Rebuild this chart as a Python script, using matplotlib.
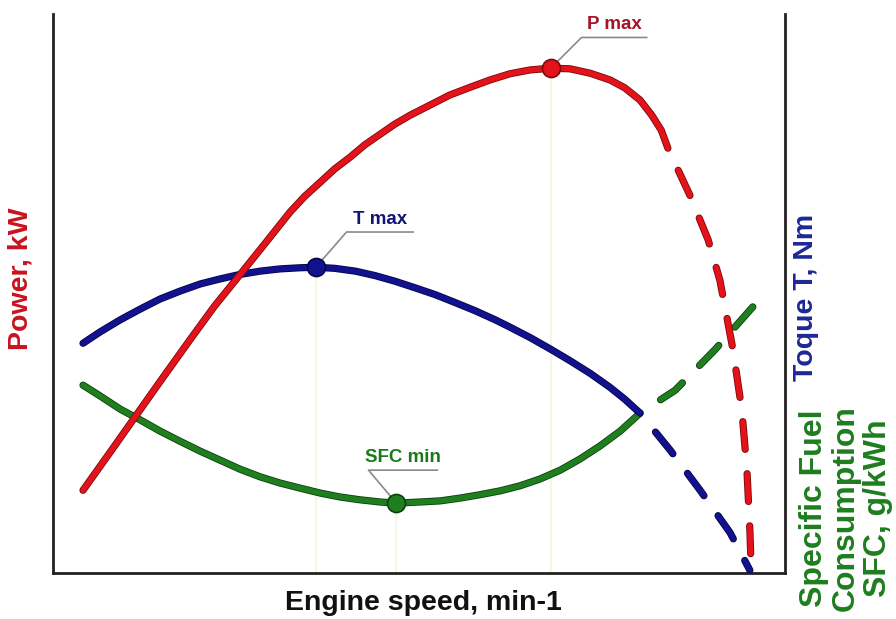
import numpy as np
import matplotlib.pyplot as plt
import matplotlib.patheffects as pe

plt.rcParams['font.family'] = ['Liberation Sans', 'DejaVu Sans']

# Engine characteristic curves, relative units (0-100 on both axes)
power_x = [4.1, 7.8, 11.2, 14.6, 18.7, 22.1, 25.5, 29.0, 32.4, 34.4, 36.5, 38.5,
           40.6, 42.6, 44.7, 46.7, 48.8, 51.5, 54.2, 57.0, 59.7, 62.4, 65.2, 68.0,
           70.6, 73.4, 76.1, 78.1, 80.2, 81.8, 83.1, 84.0]
power_y = [14.8, 21.6, 27.9, 34.2, 41.7, 47.8, 53.3, 59.0, 64.6, 67.4, 69.9, 72.3,
           74.4, 76.6, 78.5, 80.3, 81.9, 83.7, 85.5, 86.9, 88.2, 89.3, 90.0, 90.3,
           90.2, 89.4, 88.2, 86.8, 84.6, 81.9, 79.2, 76.0]
power_ext_x = [84.0, 87.0, 89.5, 91.1, 92.9, 94.1, 94.8, 95.2, 95.4]
power_ext_y = [76.0, 67.6, 59.6, 52.4, 39.9, 29.2, 18.4, 7.7, 0.0]

torque_x = [4.1, 6.4, 9.2, 11.9, 14.6, 17.3, 20.1, 22.8, 25.5, 28.3, 31.0, 33.7,
            35.9, 38.5, 41.3, 44.0, 46.7, 49.5, 52.2, 54.9, 57.7, 60.4, 62.4, 65.2,
            67.9, 70.6, 73.4, 76.1, 78.1, 80.2]
torque_y = [41.1, 43.1, 45.3, 47.2, 49.0, 50.4, 51.7, 52.6, 53.4, 54.0, 54.4, 54.6,
            54.7, 54.5, 54.0, 53.2, 52.2, 51.0, 49.8, 48.4, 46.9, 45.3, 44.0, 42.1,
            40.1, 38.0, 35.7, 33.2, 31.1, 28.6]
torque_ext_x = [80.2, 84.3, 88.4, 92.5, 95.2]
torque_ext_y = [28.6, 22.0, 14.8, 7.2, 0.5]

sfc_x = [4.1, 6.4, 9.2, 11.9, 14.6, 17.3, 20.1, 22.8, 25.5, 28.3, 31.0, 33.7,
         36.5, 39.2, 41.9, 44.7, 46.9, 50.1, 52.9, 55.6, 58.3, 61.1, 63.8, 66.5,
         69.3, 72.0, 74.7, 77.5, 80.2]
sfc_y = [33.6, 31.7, 29.3, 27.4, 25.4, 23.6, 21.8, 20.2, 18.6, 17.2, 16.1, 15.2,
         14.3, 13.6, 13.1, 12.7, 12.5, 12.7, 12.9, 13.4, 14.0, 14.7, 15.6, 16.8,
         18.4, 20.4, 22.7, 25.4, 28.6]
sfc_ext_x = [80.2, 85.0, 90.4, 95.6]
sfc_ext_y = [28.6, 32.7, 39.9, 47.6]

RED, RED_DARK = '#e3121b', '#7a0a0a'
BLUE, BLUE_DARK = '#12128f', '#05054a'
GREEN, GREEN_DARK = '#1f7f1f', '#0c3f0c'

fig = plt.figure(figsize=(8.96, 6.19), dpi=100)
ax = fig.add_axes([53 / 896, 46 / 619, 732 / 896, 559 / 619])
ax.set_xlim(0, 100)
ax.set_ylim(0, 100)


def curve(x, y, color, dark, dashed=False):
    # dashed extrapolation starts with a gap after the solid part
    ls = (5.0, (5.0, 4.4)) if dashed else '-'
    ax.plot(x, y, color=color, lw=4.0, ls=ls, solid_capstyle='round',
            dash_capstyle='round', solid_joinstyle='round', zorder=3,
            path_effects=[pe.Stroke(linewidth=5.2, foreground=dark), pe.Normal()])


curve(sfc_x, sfc_y, GREEN, GREEN_DARK)
curve(sfc_ext_x, sfc_ext_y, GREEN, GREEN_DARK, dashed=True)
curve(torque_x, torque_y, BLUE, BLUE_DARK)
curve(torque_ext_x, torque_ext_y, BLUE, BLUE_DARK, dashed=True)
curve(power_x, power_y, RED, RED_DARK)
curve(power_ext_x, power_ext_y, RED, RED_DARK, dashed=True)

# characteristic points with callouts
i_p = int(np.argmax(power_y))
i_t = int(np.argmax(torque_y))
i_s = int(np.argmin(sfc_y))
points = [
    (power_x[i_p], power_y[i_p], RED, RED_DARK, 'P max', '#a51424', 4.2, 5.5, 13.1),
    (torque_x[i_t], torque_y[i_t], BLUE, BLUE_DARK, 'T max', '#141478', 4.2, 6.3, 13.3),
    (sfc_x[i_s], sfc_y[i_s], GREEN, GREEN_DARK, 'SFC min', '#1a7a1a', -3.8, 5.9, 5.6),
]
for x, y, c, dark, label, tc, ex, ey, end in points:
    ax.plot([x, x], [0, y], color='#f6f6e4', lw=1.5, zorder=1)
    ax.plot([x, x + ex, x + end], [y, y + ey, y + ey], color='#8a8a8a', lw=1.2, zorder=2)
    ax.plot(x, y, 'o', ms=13, color=c, mec=dark, mew=1.2, zorder=5)
    ax.text((x + ex + x + end) / 2, y + ey + 0.8, label, color=tc, fontsize=13.5,
            fontweight='bold', ha='center', va='bottom')

for side in ['left', 'right', 'bottom']:
    ax.spines[side].set_linewidth(2.0)
    ax.spines[side].set_color('#222222')
ax.spines['top'].set_visible(False)
ax.set_xticks([])
ax.set_yticks([])

fig.text(423 / 896, 1 - 603 / 619, 'Engine speed, min-1', fontsize=20.5,
         fontweight='bold', ha='center', va='center', color='#111111')
fig.text(20 / 896, 1 - 279 / 619, 'Power, kW', fontsize=20.5, fontweight='bold',
         rotation=90, ha='center', va='center', color='#c8141e')
fig.text(806 / 896, 1 - 297 / 619, 'Toque T, Nm', fontsize=20.5, fontweight='bold',
         rotation=90, ha='center', va='center', color='#1e2896')
fig.text(846 / 896, 1 - 508 / 619, 'Specific Fuel\nConsumption\nSFC, g/kWh',
         fontsize=23, fontweight='bold', rotation=90, ha='center', va='center',
         multialignment='center', linespacing=1.08, color='#1e7d1e')

fig.savefig('out.png', dpi=100)
